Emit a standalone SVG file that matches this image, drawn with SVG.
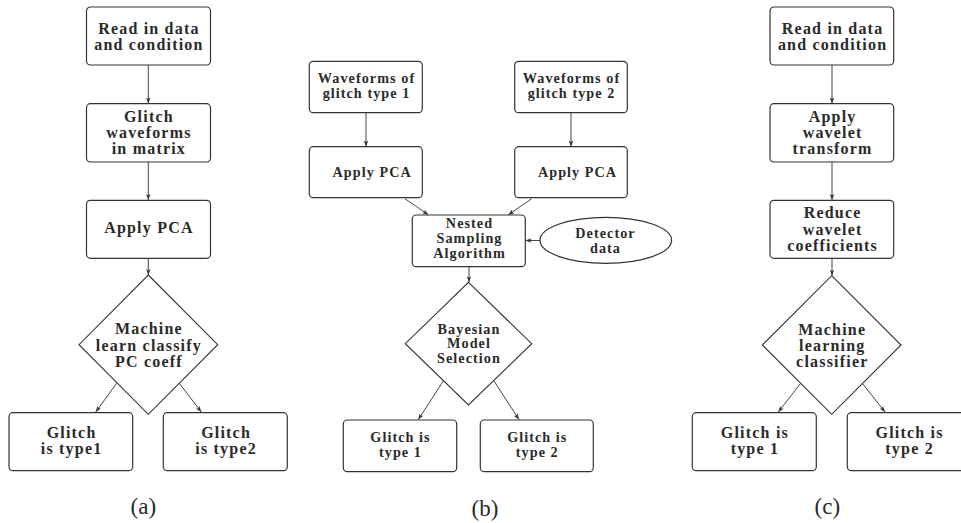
<svg xmlns="http://www.w3.org/2000/svg" width="961" height="523" viewBox="0 0 961 523">
  <style>
    .box { fill: #fff; stroke: #333; stroke-width: 1.2; }
    .dec { fill: #fff; stroke: #333; stroke-width: 1.1; }
    .t { font-family: "Liberation Serif", "DejaVu Serif", serif; font-weight: bold; font-size: 16px; letter-spacing: 1.2px; fill: #2a2a2a; text-anchor: middle; }
    .s { font-size: 14.2px; letter-spacing: 1.05px; }
    .cap { font-family: "Liberation Serif", serif; font-size: 23px; fill: #2a2a2a; text-anchor: middle; }
    .edge { fill: none; stroke: #444; stroke-width: 1; marker-end: url(#arr); }
  </style>
  <defs>
    <marker id="arr" viewBox="0 0 8 6" refX="8" refY="3" markerWidth="6" markerHeight="4.5" orient="auto" markerUnits="userSpaceOnUse">
      <path d="M0,0 L8,3 L0,6 L2,3 Z" fill="#333"/>
    </marker>
  </defs>

  <!-- connectors -->
  <g id="connectors">
    <!-- panel (a) -->
    <line class="edge" x1="148.3" y1="65" x2="148.3" y2="103.5"/>
    <line class="edge" x1="148.3" y1="162" x2="148.3" y2="200"/>
    <line class="edge" x1="148.3" y1="258.3" x2="148.3" y2="275"/>
    <line class="edge" x1="116.7" y1="383.3" x2="95.7" y2="412"/>
    <line class="edge" x1="179.3" y1="383.3" x2="201.3" y2="412"/>
    <!-- panel (b) -->
    <line class="edge" x1="366" y1="112.7" x2="366" y2="146.5"/>
    <line class="edge" x1="571" y1="112.7" x2="571" y2="146.5"/>
    <line class="edge" x1="405" y1="198.7" x2="428.3" y2="214.8"/>
    <line class="edge" x1="531.7" y1="198.7" x2="508.3" y2="214.8"/>
    <line class="edge" x1="540" y1="240.5" x2="525.5" y2="240.5"/>
    <line class="edge" x1="469" y1="266.7" x2="469" y2="282.3"/>
    <line class="edge" x1="443.3" y1="381" x2="418.3" y2="419.6"/>
    <line class="edge" x1="494" y1="381" x2="519" y2="419.6"/>
    <!-- panel (c) -->
    <line class="edge" x1="832" y1="65" x2="832" y2="103.5"/>
    <line class="edge" x1="832" y1="162" x2="832" y2="200"/>
    <line class="edge" x1="832" y1="258.3" x2="832" y2="275.7"/>
    <line class="edge" x1="800.7" y1="383.3" x2="778.3" y2="412"/>
    <line class="edge" x1="862.3" y1="383.3" x2="885" y2="412"/>
  </g>

  <!-- panel (a): PCA + machine learning -->
  <g id="a-read">
    <rect class="box" x="86.5" y="7" width="124" height="58" rx="4"/>
    <text class="t" x="148.9" y="34.3">Read in data</text>
    <text class="t" x="148.9" y="50.3">and condition</text>
  </g>
  <g id="a-matrix">
    <rect class="box" x="86.5" y="103.7" width="124" height="58.3" rx="4"/>
    <text class="t" x="148.9" y="121.7">Glitch</text>
    <text class="t" x="148.9" y="137.7">waveforms</text>
    <text class="t" x="148.9" y="154.3">in matrix</text>
  </g>
  <g id="a-pca">
    <rect class="box" x="86.5" y="200.3" width="124" height="58" rx="4"/>
    <text class="t" x="148.9" y="233.3">Apply PCA</text>
  </g>
  <g id="a-classify">
    <polygon class="dec" points="148.3,275 217.7,344.7 148.3,414.3 79,344.7"/>
    <text class="t" x="148.9" y="334.3">Machine</text>
    <text class="t" x="148.9" y="350.7">learn classify</text>
    <text class="t" x="148.9" y="366.7">PC coeff</text>
  </g>
  <g id="a-type1">
    <rect class="box" x="9" y="412.7" width="123.7" height="58" rx="4"/>
    <text class="t" x="71.6" y="437.7">Glitch</text>
    <text class="t" x="71.6" y="454">is type1</text>
  </g>
  <g id="a-type2">
    <rect class="box" x="163.3" y="412.7" width="124" height="58" rx="4"/>
    <text class="t" x="226.1" y="437.7">Glitch</text>
    <text class="t" x="226.1" y="454">is type2</text>
  </g>
  <text class="cap" x="143.3" y="514">(a)</text>

  <!-- panel (b): nested sampling -->
  <g id="b-wave1">
    <rect class="box" x="309.3" y="61.3" width="113" height="51.4" rx="4"/>
    <text class="t s" x="366.5" y="82.7">Waveforms of</text>
    <text class="t s" x="366.5" y="97.7">glitch type 1</text>
  </g>
  <g id="b-wave2">
    <rect class="box" x="514.7" y="61.3" width="112.6" height="51.4" rx="4"/>
    <text class="t s" x="571.5" y="82.7">Waveforms of</text>
    <text class="t s" x="571.5" y="97.7">glitch type 2</text>
  </g>
  <g id="b-pca1">
    <rect class="box" x="309.3" y="146.7" width="113" height="51" rx="4"/>
    <text class="t s" x="372.2" y="176.7">Apply PCA</text>
  </g>
  <g id="b-pca2">
    <rect class="box" x="514.7" y="146.7" width="112.6" height="51" rx="4"/>
    <text class="t s" x="577.5" y="176.7">Apply PCA</text>
  </g>
  <g id="b-nested">
    <rect class="box" x="412.3" y="215" width="113" height="51.7" rx="4"/>
    <text class="t s" x="469.5" y="228.3">Nested</text>
    <text class="t s" x="469.5" y="243.3">Sampling</text>
    <text class="t s" x="469.5" y="258.3">Algorithm</text>
  </g>
  <g id="b-detector">
    <ellipse class="box" cx="605.8" cy="240.3" rx="65.8" ry="23"/>
    <text class="t s" x="605.5" y="238.3">Detector</text>
    <text class="t s" x="605.5" y="253.3">data</text>
  </g>
  <g id="b-bayes">
    <polygon class="dec" points="468.5,282.3 531.7,343.7 468.5,405 405.3,343.7"/>
    <text class="t s" x="469" y="334">Bayesian</text>
    <text class="t s" x="469" y="348.3">Model</text>
    <text class="t s" x="469" y="362.7">Selection</text>
  </g>
  <g id="b-type1">
    <rect class="box" x="343.3" y="420" width="113.4" height="51.7" rx="4"/>
    <text class="t s" x="400.5" y="441.7">Glitch is</text>
    <text class="t s" x="400.5" y="456.7">type 1</text>
  </g>
  <g id="b-type2">
    <rect class="box" x="480.3" y="420" width="113" height="51.7" rx="4"/>
    <text class="t s" x="537.3" y="441.7">Glitch is</text>
    <text class="t s" x="537.3" y="456.7">type 2</text>
  </g>
  <text class="cap" x="485" y="516">(b)</text>

  <!-- panel (c): wavelet + machine learning -->
  <g id="c-read">
    <rect class="box" x="770" y="7" width="123.7" height="58" rx="4"/>
    <text class="t" x="832.6" y="34.3">Read in data</text>
    <text class="t" x="832.6" y="50.3">and condition</text>
  </g>
  <g id="c-wavelet">
    <rect class="box" x="770" y="103.7" width="123.7" height="58.3" rx="4"/>
    <text class="t" x="832.6" y="121.7">Apply</text>
    <text class="t" x="832.6" y="137.7">wavelet</text>
    <text class="t" x="832.6" y="154.3">transform</text>
  </g>
  <g id="c-reduce">
    <rect class="box" x="770" y="200.3" width="123.7" height="58" rx="4"/>
    <text class="t" x="832.6" y="218.3">Reduce</text>
    <text class="t" x="832.6" y="234.5">wavelet</text>
    <text class="t" x="832.6" y="250.7">coefficients</text>
  </g>
  <g id="c-classify">
    <polygon class="dec" points="831.7,275.7 901,345 831.7,414.3 762.3,345"/>
    <text class="t" x="832.3" y="335">Machine</text>
    <text class="t" x="832.3" y="350.7">learning</text>
    <text class="t" x="832.3" y="366.7">classifier</text>
  </g>
  <g id="c-type1">
    <rect class="box" x="692.3" y="412.7" width="124" height="58" rx="4"/>
    <text class="t" x="754.9" y="437.7">Glitch is</text>
    <text class="t" x="754.9" y="454">type 1</text>
  </g>
  <g id="c-type2">
    <rect class="box" x="847.3" y="412.7" width="124" height="58" rx="4"/>
    <text class="t" x="909.6" y="437.7">Glitch is</text>
    <text class="t" x="909.6" y="454">type 2</text>
  </g>
  <text class="cap" x="827.3" y="514">(c)</text>
</svg>
